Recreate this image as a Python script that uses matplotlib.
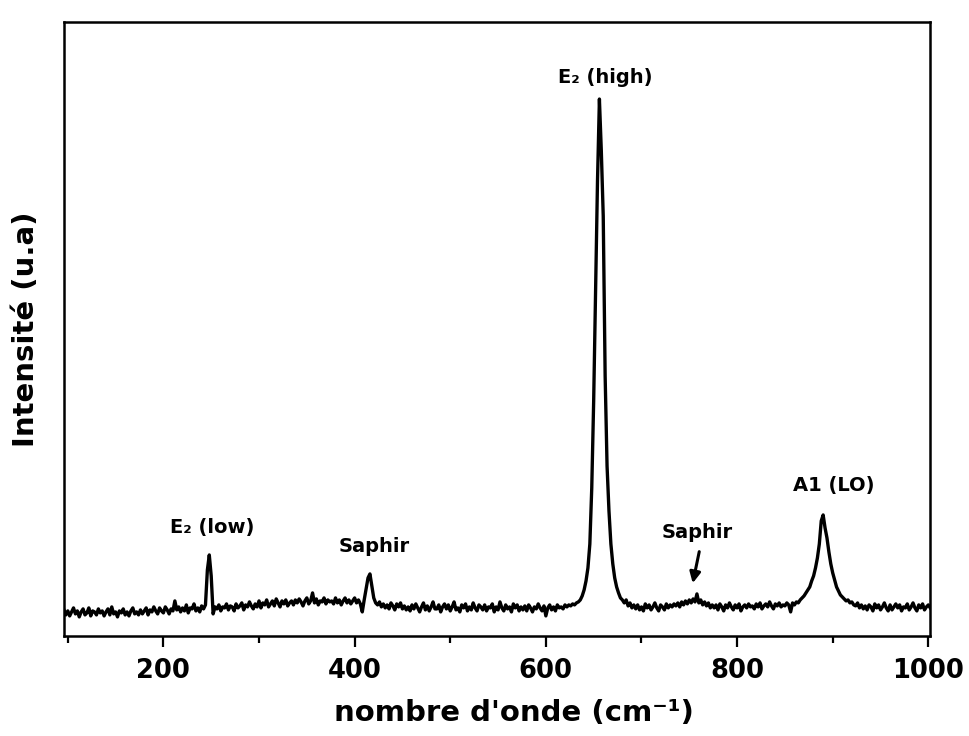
import numpy as np
import matplotlib.pyplot as plt

# spectre Raman : nombre d'onde (pas de 2 cm-1) et intensite (u.a)
nombre_onde = np.arange(96, 1003, 2)

intensite = [
    # 96 - 134
    26, 21, 25, 20, 24, 28, 22, 25, 19, 24, 27, 21, 23, 28, 20, 25, 24, 21, 27, 23,
    # 136 - 174
    25, 20, 24, 27, 21, 29, 22, 24, 19, 25, 23, 27, 21, 24, 20, 25, 28, 22, 24, 21,
    # 176 - 214
    26, 22, 25, 28, 21, 26, 24, 29, 25, 22, 28, 25, 23, 29, 26, 22, 27, 25, 35, 26,
    # 216 - 254  (E2 low)
    29, 24, 28, 25, 31, 23, 28, 27, 32, 25, 28, 24, 30, 27, 31, 66, 81, 60, 22, 29,
    # 256 - 294
    27, 31, 25, 29, 28, 32, 26, 30, 29, 25, 32, 28, 30, 33, 26, 31, 29, 34, 30, 27,
    # 296 - 334
    32, 29, 35, 28, 33, 31, 36, 29, 32, 35, 30, 37, 33, 29, 35, 32, 36, 30, 33, 35,
    # 336 - 374
    31, 36, 33, 37, 34, 30, 35, 38, 32, 35, 43, 33, 37, 31, 35, 34, 38, 32, 36, 34,
    # 376 - 414
    35, 32, 38, 33, 36, 31, 35, 38, 33, 36, 32, 35, 38, 33, 36, 32, 24, 36, 47, 58,
    # 416 - 454  (saphir)
    62, 50, 38, 33, 31, 34, 29, 32, 28, 31, 27, 33, 30, 26, 32, 29, 33, 27, 30, 26,
    # 456 - 494
    29, 25, 31, 27, 32, 28, 24, 29, 33, 26, 30, 25, 29, 34, 27, 27, 31, 24, 29, 32,
    # 496 - 534
    27, 31, 25, 29, 34, 26, 28, 24, 31, 28, 32, 25, 29, 26, 33, 28, 25, 31, 29, 26,
    # 536 - 574
    31, 25, 29, 28, 32, 24, 29, 26, 34, 28, 25, 31, 27, 29, 24, 32, 28, 31, 25, 29,
    # 576 - 614
    26, 30, 25, 31, 28, 24, 29, 27, 32, 28, 25, 30, 20, 28, 31, 26, 29, 25, 31, 28,
    # 616 - 654  (E2 high)
    29, 27, 31, 29, 31, 30, 32, 31, 33, 34, 36, 40, 46, 55, 68, 92, 148, 235, 345, 455,
    # 656 - 694
    537, 485, 420, 260, 170, 125, 92, 72, 58, 49, 43, 38, 36, 33, 36, 30, 33, 28, 31, 27,
    # 696 - 734
    31, 26, 29, 25, 32, 28, 31, 26, 29, 33, 28, 25, 31, 29, 26, 32, 28, 31, 29, 32,
    # 736 - 774  (saphir)
    30, 33, 29, 34, 31, 35, 32, 36, 33, 37, 34, 42, 33, 36, 31, 34, 30, 33, 28, 31,
    # 776 - 814
    28, 31, 26, 32, 29, 25, 31, 28, 33, 29, 26, 31, 28, 32, 25, 29, 31, 28, 32, 29,
    # 816 - 854
    30, 27, 32, 29, 33, 27, 30, 32, 29, 34, 30, 27, 32, 30, 33, 29, 31, 30, 33, 31,
    # 856 - 894  (A1 LO)
    24, 33, 31, 34, 33, 36, 38, 40, 43, 46, 49, 55, 60, 68, 78, 92, 115, 121, 108, 98,
    # 896 - 934
    84, 72, 63, 56, 49, 45, 41, 39, 37, 35, 36, 33, 34, 31, 30, 33, 28, 31, 27, 30,
    # 936 - 974
    26, 31, 29, 25, 32, 28, 31, 26, 29, 33, 28, 25, 31, 26, 29, 32, 28, 31, 25, 29,
    # 976 - 1002
    28, 32, 26, 29, 33, 28, 25, 31, 28, 32, 26, 29, 31, 28,
]

# etiquettes des modes
labels = ["E\u2082 (high)", "E\u2082 (low)", "Saphir", "Saphir", "A1 (LO)"]
label_x = [662, 251, 420, 758, 901]
label_y = [559, 108, 89, 103, 150]

plt.rcParams['font.family'] = 'DejaVu Sans'
plt.rcParams['font.weight'] = 'bold'

fig = plt.figure(figsize=(9.69, 7.36), dpi=100)
ax = fig.add_axes([0.066, 0.136, 0.894, 0.834])

ax.plot(nombre_onde, intensite, color='black', lw=2.4)

for t, x, y in zip(labels, label_x, label_y):
    ax.text(x, y, t, ha='center', va='center', fontsize=14, fontweight='bold')

# fleche pour le deuxieme pic du saphir
ax.annotate("", xy=(753, 50), xytext=(761, 87),
            arrowprops=dict(arrowstyle='-|>', color='black', lw=2.2, mutation_scale=16))

ax.set_xlim(96, 1002)
ax.set_ylim(0, 614)
ax.set_xticks([200, 400, 600, 800, 1000])
ax.set_xticks([100, 300, 500, 700, 900], minor=True)
ax.set_yticks([])
ax.tick_params(axis='x', which='major', direction='out', length=8, width=1.6,
               labelsize=18.5, pad=8)
ax.tick_params(axis='x', which='minor', direction='out', length=5, width=1.6)
for lab in ax.get_xticklabels():
    lab.set_fontweight('bold')
for s in ax.spines.values():
    s.set_linewidth(1.8)

ax.set_xlabel("nombre d'onde (cm\u207b\u00b9)", fontsize=21, fontweight='bold')
ax.xaxis.set_label_coords(0.52, -0.103)
ax.set_ylabel("Intensit\u00e9 (u.a)", fontsize=21, fontweight='bold')
ax.yaxis.set_label_coords(-0.028, 0.5)

plt.savefig('out.png', dpi=100)
